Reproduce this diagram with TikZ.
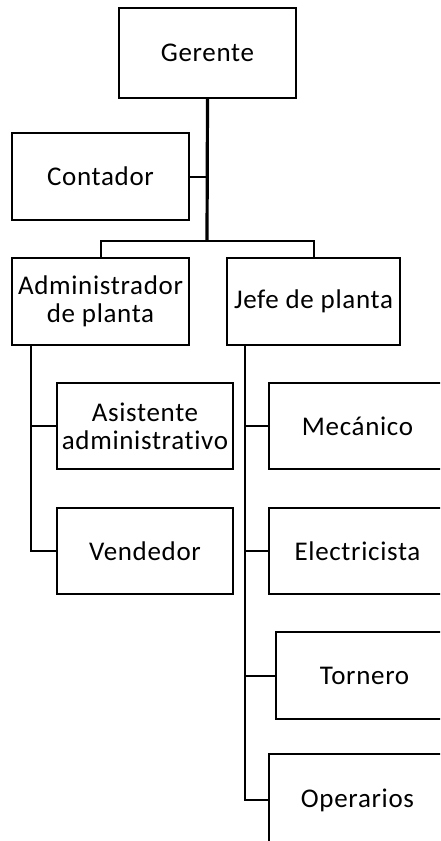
\documentclass[tikz,border=0pt]{standalone}
\usepackage{fontspec}
\setmainfont{Carlito}[Ligatures={NoCommon},LetterSpace=2.5]
\begin{document}
\begin{tikzpicture}[x=1pt,y=-1pt,
  box/.style={draw=black,line width=2pt,fill=white,rectangle,inner sep=0pt,
    minimum width=177pt,minimum height=87pt,align=center,
    font=\fontsize{27}{28}\selectfont},
  conn/.style={line width=2pt},
  trunk/.style={line width=3.2pt}]
\useasboundingbox (0,0) rectangle (440,841);
\clip (0,0) rectangle (440,841);
\node[box,minimum height=90pt] (ger) at (207.5,53) {Gerente};
\node[box] (con) at (100.5,176.5) {Contador};
\node[box] (adm) at (100.5,301.5) {Administrador\\de planta};
\node[box,minimum width=173pt] (jef) at (313.5,301.5) {Jefe de planta};
\node[box,minimum width=176pt,minimum height=86pt] (asi) at (145,426) {Asistente\\administrativo};
\node[box,minimum width=176pt,minimum height=86pt] (ven) at (145,551) {Vendedor};
\node[box,minimum height=86pt] (mec) at (357.5,426) {Mecánico};
\node[box,minimum height=86pt] (ele) at (357.5,551) {Electricista};
\node[box] (tor) at (364.5,675.5) {Tornero};
\node[box,minimum height=92pt] (ope) at (357.5,800) {Operarios};
\coordinate (bar) at (207,241);
\coordinate (admline) at (31,345);
\coordinate (jefline) at (245,345);
\draw[trunk] (ger.south) -- (bar);
\draw[conn] (con.east) -- (con.east -| bar);
\draw[conn] (adm.north) |- (bar) -| (jef.north);
\draw[conn] (admline) |- (ven.west);
\draw[conn] (asi.west) -- (asi.west -| admline);
\draw[conn] (jefline) |- (ope.west);
\draw[conn] (mec.west) -- (mec.west -| jefline);
\draw[conn] (ele.west) -- (ele.west -| jefline);
\draw[conn] (tor.west) -- (tor.west -| jefline);
\end{tikzpicture}
\end{document}
